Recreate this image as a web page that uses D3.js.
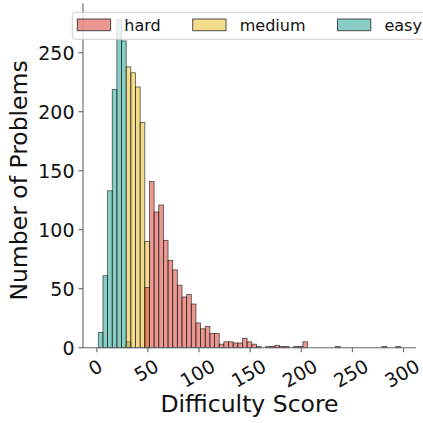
<!DOCTYPE html>
<html>
<head>
<meta charset="utf-8">
<script src="https://cdn.jsdelivr.net/npm/d3@7"></script>
<style>
  html, body { margin: 0; padding: 0; background: #fff; }
  text { font-family: "DejaVu Sans", sans-serif; fill: #111; }
</style>
</head>
<body>
<svg id="chart" width="423" height="423"></svg>
<script>
// ---- data ----
const seriesNames = ["hard", "medium", "easy"];
const seriesColors = ["#d52d23", "#e7b919", "#119d89"];
const binFirstEdge = 1.47;
const binWidth = 4.548;
const binCount = 65;
// counts per bin, listed from the first bin each series occupies
const easyStart = 0;
const easyCounts = [13, 61, 133, 219, 278, 260, 5];
const mediumStart = 6;
const mediumCounts = [238, 233, 221, 191, 90];
const hardStart = 10;
const hardCounts = [51, 141, 115, 121, 91, 74, 66, 53, 43, 45, 37, 21, 16, 18, 12, 12,
  3, 5, 5, 4, 4, 8, 5, 3, 1, 0, 1, 1, 2, 1, 1, 0, 1, 1, 5,
  0, 0, 0, 0, 0, 0, 1, 0, 0, 0, 0, 0, 0, 0, 0, 0, 1, 0, 0, 1];
const xTicks = [0, 50, 100, 150, 200, 250, 300];
const yTicks = [0, 50, 100, 150, 200, 250];
const xLabel = "Difficulty Score";
const yLabel = "Number of Problems";

// ---- layout ----
const svg = d3.select("#chart");
const plot = { left: 83, right: 416, top: 3.2, bottom: 347.7 };
const x = d3.scaleLinear().domain([-13.5, 312.2]).range([plot.left, plot.right]);
const y = d3.scaleLinear().domain([0, 292]).range([plot.bottom, plot.top]);

function toBars(start, counts) {
  return counts.map((c, i) => ({
    x0: binFirstEdge + (start + i) * binWidth,
    x1: binFirstEdge + (start + i + 1) * binWidth,
    count: c
  })).filter(d => d.count > 0);
}
const seriesData = {
  easy: toBars(easyStart, easyCounts),
  medium: toBars(mediumStart, mediumCounts),
  hard: toBars(hardStart, hardCounts)
};

// draw easy first, hard last (on top)
["easy", "medium", "hard"].forEach(name => {
  const col = seriesColors[seriesNames.indexOf(name)];
  svg.append("g").selectAll("rect").data(seriesData[name]).join("rect")
    .attr("x", d => x(d.x0))
    .attr("width", d => x(d.x1) - x(d.x0))
    .attr("y", d => y(d.count))
    .attr("height", d => y(0) - y(d.count))
    .attr("fill", col)
    .attr("fill-opacity", 0.5)
    .attr("stroke", "#1a1a1a")
    .attr("stroke-opacity", 0.75)
    .attr("stroke-width", 0.8);
});

// spines
const spineColor = "#666";
svg.append("line").attr("x1", plot.left).attr("x2", plot.left)
  .attr("y1", plot.top).attr("y2", plot.bottom)
  .attr("stroke", spineColor).attr("stroke-width", 1.1);
svg.append("line").attr("x1", plot.left).attr("x2", plot.right)
  .attr("y1", plot.bottom).attr("y2", plot.bottom)
  .attr("stroke", spineColor).attr("stroke-width", 1.1);

// y ticks
const tickFont = 19;
const yg = svg.append("g");
yTicks.forEach(t => {
  yg.append("line").attr("x1", plot.left - 4.5).attr("x2", plot.left)
    .attr("y1", y(t)).attr("y2", y(t)).attr("stroke", spineColor).attr("stroke-width", 1.1);
  yg.append("text").attr("x", plot.left - 8.5).attr("y", y(t)).attr("dy", "0.36em")
    .attr("text-anchor", "end").style("font-size", tickFont + "px").text(t);
});

// x ticks (rotated 30deg, centered)
const xg = svg.append("g");
xTicks.forEach(t => {
  xg.append("line").attr("x1", x(t)).attr("x2", x(t))
    .attr("y1", plot.bottom).attr("y2", plot.bottom + 4.5)
    .attr("stroke", spineColor).attr("stroke-width", 1.1);
  const tx = xg.append("text").attr("text-anchor", "middle")
    .style("font-size", tickFont + "px").attr("dy", "0.36em").text(t);
  const w = tx.node().getComputedTextLength();
  const cy = plot.bottom + 7 + (w / 2 + 0.866 * 1.164 * tickFont) / 2;
  tx.attr("transform", `translate(${x(t) - 1.5},${cy}) rotate(-30)`);
});

// axis labels
svg.append("text").attr("x", (plot.left + plot.right) / 2).attr("y", 412)
  .attr("text-anchor", "middle").style("font-size", "23.5px").text(xLabel);
svg.append("text").attr("transform", `translate(27,${(plot.top + plot.bottom) / 2 + 5}) rotate(-90)`)
  .attr("text-anchor", "middle").style("font-size", "23.5px").text(yLabel);

// legend
const lg = svg.append("g");
const legBox = lg.append("rect").attr("x", 72.3).attr("y", 12.3).attr("height", 27)
  .attr("rx", 3).attr("fill", "#fff").attr("fill-opacity", 0.8)
  .attr("stroke", "#d0d0d0").attr("stroke-width", 1);
let lx = 77.3;
seriesNames.forEach((name, i) => {
  lg.append("rect").attr("x", lx).attr("y", 19).attr("width", 33.3).attr("height", 11.7)
    .attr("fill", seriesColors[i]).attr("fill-opacity", 0.5)
    .attr("stroke", "#1a1a1a").attr("stroke-opacity", 0.75).attr("stroke-width", 1);
  const t = lg.append("text").attr("x", lx + 47).attr("y", 30.8)
    .style("font-size", "16px").text(name);
  lx = lx + 47 + t.node().getComputedTextLength() + 32;
});
legBox.attr("width", lx - 72.3);
</script>
</body>
</html>
